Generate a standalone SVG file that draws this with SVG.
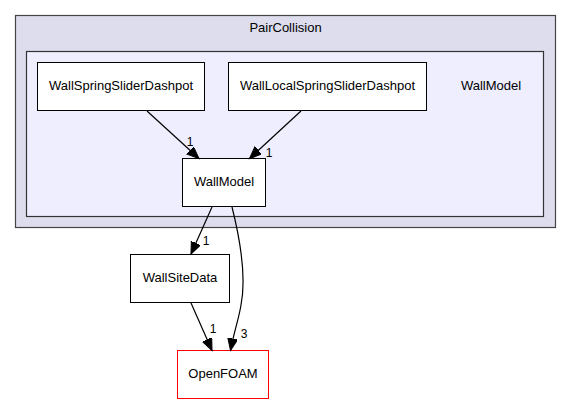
<svg xmlns="http://www.w3.org/2000/svg" width="571" height="404" viewBox="0 0 571 404">
<style>
text{font-family:"Liberation Sans",Arial,Helvetica,sans-serif;fill:#000}
.n{font-size:13px;text-anchor:middle}
.l{font-size:12px;text-anchor:middle}
.box{fill:#fff;stroke:#000;stroke-width:1}
.e{fill:none;stroke:#000;stroke-width:1.2;marker-end:url(#ah)}
</style>
<defs>
<marker id="ah" markerUnits="userSpaceOnUse" viewBox="0 0 14 12" markerWidth="14" markerHeight="12" refX="12" refY="5" orient="auto">
<path d="M0,0 L12,5 L0,10 Z" fill="#000" stroke="#000" stroke-width="1"/>
</marker>
</defs>
<rect width="571" height="404" fill="#fff"/>
<g id="cluster_PairCollision">
<rect x="15.5" y="15.5" width="540" height="212" fill="#ddddee" stroke="#444" stroke-width="1.2"/>
<text class="n" x="285.5" y="32">PairCollision</text>
</g>
<g id="cluster_WallModel">
<rect x="26.5" y="51.5" width="517" height="165" fill="#eeeeff" stroke="#333" stroke-width="1.2"/>
<text class="n" x="491" y="90">WallModel</text>
</g>
<g id="node_WallSpringSliderDashpot">
<rect class="box" x="37.5" y="62.5" width="167" height="48"/>
<text class="n" x="121" y="90">WallSpringSliderDashpot</text>
</g>
<g id="node_WallLocalSpringSliderDashpot">
<rect class="box" x="228.5" y="62.5" width="198" height="48"/>
<text class="n" x="327.5" y="90">WallLocalSpringSliderDashpot</text>
</g>
<g id="node_WallModel">
<rect class="box" x="182.5" y="158.5" width="83" height="48"/>
<text class="n" x="224" y="186">WallModel</text>
</g>
<g id="node_WallSiteData">
<rect class="box" x="130.5" y="254.5" width="99" height="48"/>
<text class="n" x="180" y="282">WallSiteData</text>
</g>
<g id="node_OpenFOAM">
<rect x="177.5" y="350.5" width="91" height="48" fill="#fff" stroke="#ff0000" stroke-width="1"/>
<text class="n" x="223" y="378">OpenFOAM</text>
</g>
<g id="edges">
<path class="e" d="M147,111 L199,158.5"/>
<text class="l" x="190" y="146">1</text>
<path class="e" d="M301,111 L249.5,158.5"/>
<text class="l" x="269" y="157">1</text>
<path class="e" d="M212,207 L191,254"/>
<text class="l" x="206" y="245">1</text>
<path class="e" d="M232,207 C239,235 247,275 241,305 C239,318 234,332 230.5,350.5"/>
<text class="l" x="244" y="338">3</text>
<path class="e" d="M191,303 L212,350.5"/>
<text class="l" x="213" y="333">1</text>
</g>
</svg>
